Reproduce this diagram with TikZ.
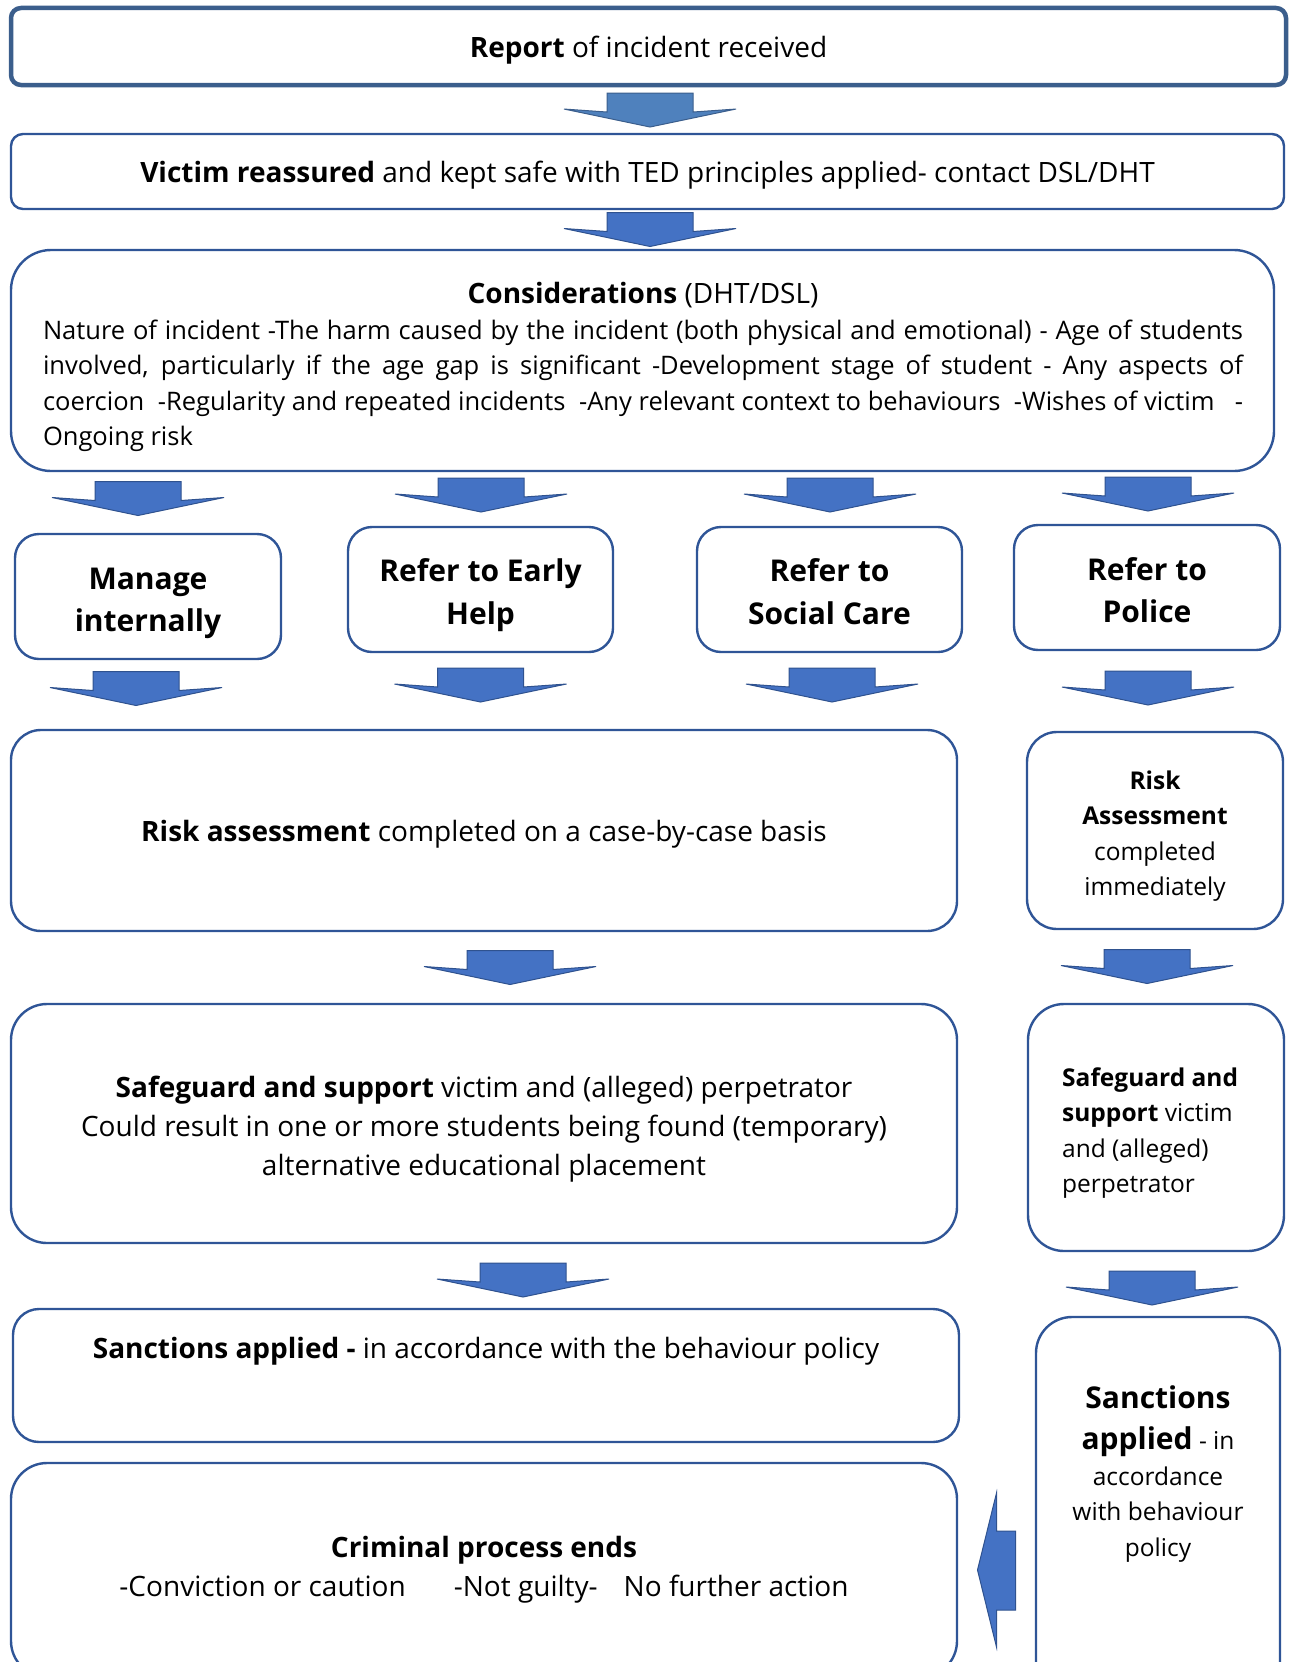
\documentclass[tikz,border=0pt]{standalone}
\usepackage{fontspec}
\setmainfont{Open Sans}
\usetikzlibrary{calc}

\definecolor{boxblue}{HTML}{2F5597}
\definecolor{topblue}{HTML}{3B5E8C}
\definecolor{arrowfill}{HTML}{4472C4}
\definecolor{arrowline}{HTML}{2F528F}
\definecolor{firstfill}{HTML}{4F81BD}

\newcommand{\normtxt}{\fontsize{28}{39}\selectfont}
\newcommand{\listtxt}{\fontsize{25.5}{35.5}\selectfont}
\newcommand{\sidetxt}{\fontsize{24.5}{35.5}\selectfont}
\newcommand{\bigtxt}{\fontsize{30}{42.5}\selectfont}

% block arrow pointing down, between two boxes, x taken from a third node
% #2 upper box, #3 lower box, #4 node for x, #5 x shift, #6 y shift (up)
\newcommand{\blkdown}[6][]{%
  \path[blkarrow,#1] let \p1=(#2.south), \p2=(#3.north), \p3=(#4.center),
      \n1={(\y1+\y2)/2+(#6)*1pt}, \n2={\x3+(#5)*1pt} in
    (\n2-43pt,\n1+17pt) -- (\n2+43pt,\n1+17pt) -- (\n2+43pt,\n1-2pt) -- (\n2+86pt,\n1+1pt)
    -- (\n2,\n1-17pt) -- (\n2-86pt,\n1+1pt) -- (\n2-43pt,\n1-2pt) -- cycle;}
% block arrow pointing left
\newcommand{\blkleft}[2]{%
  \path[blkarrow] let \p1=(#1.west), \p2=(#2.east), \n1={(\x1+\x2)/2} in
    (\n1-19pt,\y2) -- (\n1,\y2+77pt) -- (\n1,\y2+39pt) -- (\n1+19pt,\y2+39pt)
    -- (\n1+19pt,\y2-40pt) -- (\n1,\y2-40pt) -- (\n1,\y2-77pt) -- cycle;}

\begin{document}
\begin{tikzpicture}[x=1pt, y=-1pt,
    every node/.style={inner sep=0pt, font=\normtxt},
    box/.style={draw=boxblue, line width=2.4pt, fill=white, rounded corners=#1},
    box/.default=24pt,
    big/.style={font=\bigtxt\bfseries, align=center},
    side/.style={font=\sidetxt},
    blkarrow/.style={fill=arrowfill, draw=arrowline, line width=1pt}]
	\useasboundingbox (0,0) rectangle (1288,1662);

	% top of the chart
	\node[box=10pt, draw=topblue, line width=4.5pt, minimum width=1275pt, minimum height=77pt, text depth=0pt] (rpt) at (648.5,46.5) {\textbf{Report} of incident received};
	\node[box=12pt, minimum width=1273pt, minimum height=75pt, text depth=0pt] (vic) at (647.5,171.5) {\textbf{Victim reassured} and kept safe with TED principles applied- contact DSL/DHT};
	\node[box=40pt, minimum width=1263pt, minimum height=221pt] (cons) at (642.5,360.5) {};
	\node (cons-t) at (643,295) {\textbf{Considerations} (DHT/DSL)};
	\node[font=\listtxt, text width=1200pt, align=justify] (cons-b) at (643,386) {Nature of incident -The harm caused by the incident (both physical and emotional) - Age of students\linebreak
		involved, particularly if the age gap is significant -Development stage of student - Any aspects of\linebreak
		coercion~ -Regularity and repeated incidents~ -Any relevant context to behaviours~ -Wishes of victim~ ~-\linebreak
		Ongoing risk};

	% the four routes
	\node[box, minimum width=266pt, minimum height=125pt] (man) at (148,596.5) {};
	\node[box, minimum width=265pt, minimum height=125pt] (erl) at (480.5,589.5) {};
	\node[box, minimum width=265pt, minimum height=125pt] (soc) at (829.5,589.5) {};
	\node[box, minimum width=266pt, minimum height=125pt] (pol) at (1147,587.5) {};
	\node[big] (man-t) at (148,603.5) {Manage\\internally};
	\node[big] (erl-t) at (480.5,595) {Refer to Early\\Help};
	\node[big] (soc-t) at (829.5,591.5) {Refer to\\Social Care};
	\node[big] (pol-t) at (1147,590) {Refer to\\Police};

	% left column
	\node[box=30pt, minimum width=946pt, minimum height=201pt, text depth=0pt] (risk) at (484,830.5) {\textbf{Risk assessment} completed on a case-by-case basis};
	\node[box=36pt, minimum width=946pt, minimum height=239pt] (safe) at (484,1123.5) {};
	\node[align=center] (safe-t) at (484,1129) {\textbf{Safeguard and support} victim and (alleged) perpetrator\\Could result in one or more students being found (temporary)\\alternative educational placement};
	\node[box=26pt, minimum width=946pt, minimum height=133pt] (sanc) at (486,1375.5) {};
	\node (sanc-t) at (486,1351) {\textbf{Sanctions applied -} in accordance with the behaviour policy};
	\node[box=36pt, minimum width=946pt, minimum height=214pt] (crim) at (484,1570) {};
	\node[align=center] (crim-t) at (484,1569.5) {\textbf{Criminal process ends}\\-Conviction or caution\hspace{48pt}-Not guilty-\hspace{26pt}No further action};

	% police column
	\node[box=30pt, minimum width=256pt, minimum height=197pt] (riskp) at (1155,830.5) {};
	\node[side, align=center] (riskp-t) at (1155,836) {\textbf{Risk}\\\textbf{Assessment}\\completed\\immediately};
	\node[box=36pt, minimum width=256pt, minimum height=247pt] (safep) at (1156,1127.5) {};
	\node[side, anchor=west, align=left] (safep-t) at (1062,1133) {\textbf{Safeguard and}\\\textbf{support} victim\\and (alleged)\\perpetrator};
	\node[box=36pt, minimum width=244pt, minimum height=383pt] (sancp) at (1158,1508.5) {};
	\node[side, align=center] (sancp-t) at (1158,1474) {{\bigtxt\bfseries Sanctions}\\[6pt]{\bigtxt\bfseries applied} - in\\accordance\\with behaviour\\policy};

	% block arrows
	\blkdown[fill=firstfill, draw=topblue]{rpt}{vic}{rpt}{1.5}{0}
	\blkdown{vic}{cons}{vic}{2.5}{0}
	\foreach \b/\s in {man/-10, erl/0.5, soc/0.5, pol/1} {\blkdown{cons}{\b}{\b}{\s}{4}}
	\foreach \b/\s in {man/-12, erl/0, soc/2.5} {\blkdown{\b}{risk}{\b}{\s}{6}}
	\blkdown{pol}{riskp}{pol}{1}{3}
	\blkdown{risk}{safe}{risk}{26}{0}
	\blkdown{safe}{sanc}{safe}{39}{-4}
	\blkdown{riskp}{safep}{riskp}{-8}{0}
	\blkdown{safep}{sancp}{safep}{-4}{-4}
	\blkleft{sancp}{crim}
\end{tikzpicture}
\end{document}
